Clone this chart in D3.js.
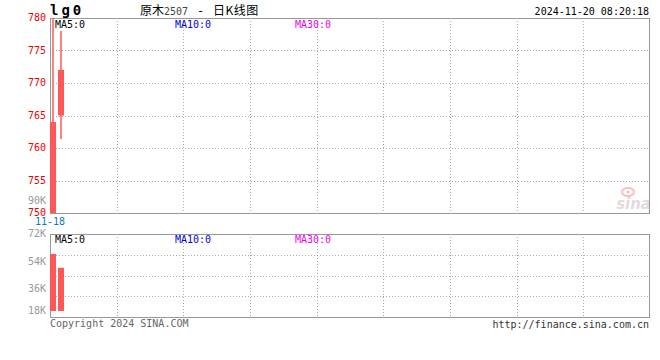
<!DOCTYPE html>
<html><head><meta charset="utf-8">
<script src="https://cdn.jsdelivr.net/npm/d3@7/dist/d3.min.js"></script>
<style>
html,body{margin:0;padding:0;background:#fff;}
svg{display:block;}
text{font-family:"DejaVu Sans Mono",monospace;font-size:10px;}
</style></head>
<body>
<svg id="c" width="660" height="360"></svg>
<script>
// ---- data ----
const dates = ["11-18", "11-19"];
const openP = [750, 765];
const closeP = [764, 772];
const highP = [780, 778];
const lowP = [750, 761.4];
const volumes = [59000, 50000];
const priceTicks = [780, 775, 770, 765, 760, 755, 750];
const volTicks = [72000, 54000, 36000, 18000];
const maLabels = ["MA5:0", "MA10:0", "MA30:0"];
const titleParts = ["原木", "2507", "-", "日K线图"];
const stamp = "2024-11-20 08:20:18";

// ---- layout ----
const L = 50, R = 650;
const mainTop = 18, mainBot = 213;
const volTop = 234, volBot = 317;
const svg = d3.select("#c");

const x = d3.scaleLinear().domain([0, 75]).range([L, R]);
const barW = 6;
const y = d3.scaleLinear().domain([750, 780]).range([mainBot, mainTop]);
const yv = d3.scaleLinear().domain([18000, 72000]).range([volBot, volTop]);

const gridCol = "#aaa", frameCol = "#999";
const maColors = ["#000", "#0000dd", "#ee00ee"];
const up = "#ff5757";

// vertical grid
const vx = d3.range(1, 9).map(k => L + k * (R - L) / 9);
[[mainTop, mainBot], [volTop, volBot]].forEach(([t, b]) => {
  svg.selectAll(null).data(vx).enter().append("line")
    .attr("x1", d => Math.round(d) + 0.5).attr("x2", d => Math.round(d) + 0.5)
    .attr("y1", t).attr("y2", b)
    .attr("stroke", gridCol).attr("stroke-dasharray", "1,2");
});
// horizontal grid main
svg.selectAll(null).data(priceTicks.slice(1, -1)).enter().append("line")
  .attr("x1", L).attr("x2", R)
  .attr("y1", d => Math.round(y(d)) + 0.5).attr("y2", d => Math.round(y(d)) + 0.5)
  .attr("stroke", gridCol).attr("stroke-dasharray", "1,2");
// horizontal grid vol (4 divisions)
svg.selectAll(null).data(d3.range(1, 4)).enter().append("line")
  .attr("x1", L).attr("x2", R)
  .attr("y1", k => Math.round(volTop + k * (volBot - volTop) / 4) + 0.5)
  .attr("y2", k => Math.round(volTop + k * (volBot - volTop) / 4) + 0.5)
  .attr("stroke", gridCol).attr("stroke-dasharray", "1,2");

// frames
function frame(t, b) {
  svg.append("line").attr("x1", L).attr("x2", R).attr("y1", t + 0.5).attr("y2", t + 0.5).attr("stroke", frameCol);
  svg.append("line").attr("x1", L).attr("x2", R).attr("y1", b + 0.5).attr("y2", b + 0.5).attr("stroke", frameCol);
  svg.append("line").attr("x1", L + 0.5).attr("x2", L + 0.5).attr("y1", t).attr("y2", b).attr("stroke", frameCol);
  svg.append("line").attr("x1", R - 0.5).attr("x2", R - 0.5).attr("y1", t).attr("y2", b + 1).attr("stroke", frameCol);
}
frame(mainTop, mainBot);
frame(volTop, volBot);

// sina logo (faint)
const logo = svg.append("g").attr("opacity", 0.3);
logo.append("ellipse").attr("cx", 628).attr("cy", 192).attr("rx", 6).attr("ry", 4)
  .attr("fill", "none").attr("stroke", "#e33").attr("stroke-width", 2);
logo.append("circle").attr("cx", 628).attr("cy", 192).attr("r", 1.5).attr("fill", "#e33");
logo.append("text").attr("x", 651).attr("y", 209).attr("text-anchor", "end")
  .style("font-family", "DejaVu Sans").style("font-size", "15px").style("font-weight", "bold")
  .style("font-style", "italic").attr("fill", "#a88").text("sina");

// candles
const idx = d3.range(dates.length);
svg.selectAll(null).data(idx).enter().append("line")
  .attr("x1", i => x(i) + barW / 2).attr("x2", i => x(i) + barW / 2)
  .attr("y1", i => y(highP[i])).attr("y2", i => y(lowP[i]))
  .attr("stroke", up).attr("stroke-width", 1.5);
svg.selectAll(null).data(idx).enter().append("rect")
  .attr("x", i => x(i)).attr("width", barW)
  .attr("y", i => y(Math.max(openP[i], closeP[i])))
  .attr("height", i => Math.max(1, Math.abs(y(openP[i]) - y(closeP[i]))))
  .attr("fill", up);

// volume bars
const volBase = volBot - 6;
svg.selectAll(null).data(idx).enter().append("rect")
  .attr("x", i => x(i)).attr("width", barW)
  .attr("y", i => yv(volumes[i]))
  .attr("height", i => volBase - yv(volumes[i]))
  .attr("fill", up);

// price labels
svg.selectAll(null).data(priceTicks).enter().append("text")
  .attr("x", 46).attr("y", d => y(d) + 3).attr("text-anchor", "end")
  .attr("fill", "#e00").text(d => d);
// stray volume label
svg.append("text").attr("x", 46).attr("y", 204).attr("text-anchor", "end").attr("fill", "#999").text("90K");
// volume labels
svg.selectAll(null).data(volTicks).enter().append("text")
  .attr("x", 46).attr("y", d => Math.max(235, Math.min(314, yv(d) + 3)))
  .attr("text-anchor", "end").attr("fill", "#999").text(d => (d / 1000) + "K");

// date label
svg.append("text").attr("x", x(0)).attr("y", 225).attr("text-anchor", "middle")
  .attr("fill", "#0a78c8").text(dates[0]);

// MA labels
const maX = [55, 175, 295];
[28, 243].forEach(yy => {
  svg.selectAll(null).data(maLabels).enter().append("text")
    .attr("x", (d, i) => maX[i]).attr("y", yy)
    .attr("fill", (d, i) => maColors[i]).text(d => d);
});

// header
svg.append("text").attr("x", 50).attr("y", 15)
  .style("font-family", "DejaVu Sans Mono").style("font-size", "14px").style("font-weight", "bold")
  .style("letter-spacing", "3px").attr("fill", "#000").text("lg0");
const tPos = [140, 164, 197, 213];
const tFont = ["Noto Sans CJK SC", "DejaVu Sans Mono", "DejaVu Sans Mono", "Noto Sans CJK SC"];
const tSize = ["12px", "10px", "12px", "12px"];
const tCol = ["#000", "#444", "#000", "#000"];
const tt = svg.append("text").attr("y", 15);
titleParts.forEach((p, i) => {
  tt.append("tspan").attr("x", tPos[i]).style("font-family", tFont[i]).style("font-size", tSize[i])
    .style("letter-spacing", i === 3 ? "0.5px" : "0px")
    .attr("fill", tCol[i]).text(p);
});
svg.append("text").attr("x", 649).attr("y", 15).attr("text-anchor", "end")
  .attr("fill", "#000").text(stamp);

// footer
svg.append("text").attr("x", 50).attr("y", 327).attr("fill", "#666").text("Copyright 2024 SINA.COM");
svg.append("text").attr("x", 649).attr("y", 328).attr("text-anchor", "end").attr("fill", "#333").text("http://finance.sina.com.cn");
</script>
</body></html>
